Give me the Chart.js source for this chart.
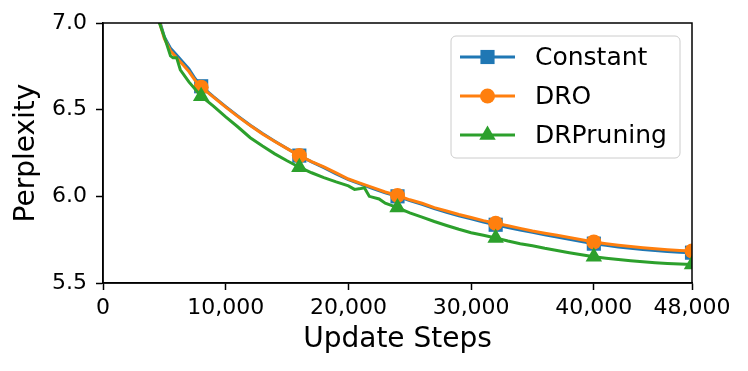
<!DOCTYPE html>
<html>
<head>
<meta charset="utf-8">
<script src="https://cdn.jsdelivr.net/npm/chart.js@4/dist/chart.umd.min.js"></script>
<style>
  html, body { margin: 0; padding: 0; background: #ffffff; }
  #wrap { width: 748px; height: 371px; position: relative; }
</style>
</head>
<body>
<div id="wrap"><canvas id="c" width="748" height="371"></canvas></div>
<script>
// ---- data ----
const seriesNames = ['Constant', 'DRO', 'DRPruning'];
const xTickValues = [0, 10000, 20000, 30000, 40000, 48000];
const yTickValues = [5.5, 6.0, 6.5, 7.0];
const markerSteps = [8000, 16000, 24000, 32000, 40000, 48000];

const stepsMain = [4000, 4500, 5000, 5500, 6000, 6500, 7000, 7500, 8000, 9000, 10000,
  11000, 12000, 13000, 14000, 15000, 16000, 17000, 18000, 19000, 20000,
  21000, 22000, 23000, 24000, 25000, 26000, 27000, 28000, 29000, 30000,
  31000, 32000, 33000, 34000, 35000, 36000, 37000, 38000, 39000, 40000,
  41000, 42000, 43000, 44000, 45000, 46000, 47000, 48000];

const constantPpl = [7.16, 7.04, 6.92, 6.855, 6.815, 6.775, 6.735, 6.68, 6.635, 6.575, 6.518,
  6.463, 6.41, 6.362, 6.318, 6.276, 6.235, 6.199, 6.166, 6.13, 6.096,
  6.07, 6.045, 6.02, 6.0, 5.975, 5.954, 5.93, 5.908, 5.888, 5.87,
  5.852, 5.836, 5.82, 5.806, 5.792, 5.778, 5.765, 5.753, 5.74, 5.727,
  5.717, 5.708, 5.70, 5.693, 5.687, 5.682, 5.678, 5.675];

const droPpl = [7.15, 7.03, 6.91, 6.84, 6.80, 6.76, 6.72, 6.67, 6.63, 6.572, 6.515,
  6.46, 6.408, 6.36, 6.316, 6.275, 6.235, 6.20, 6.17, 6.135, 6.10,
  6.075, 6.05, 6.025, 6.005, 5.98, 5.96, 5.935, 5.915, 5.895, 5.878,
  5.86, 5.845, 5.83, 5.815, 5.80, 5.787, 5.775, 5.763, 5.75, 5.737,
  5.727, 5.718, 5.71, 5.703, 5.697, 5.692, 5.688, 5.685];

const stepsPruning = [4000, 4500, 5000, 5500, 5700, 6000, 6300, 7000, 8000, 9000, 10000,
  11000, 12000, 13000, 14000, 15000, 16000, 17000, 18000, 19000, 20000,
  20500, 21000, 21300, 21700, 22500, 23000, 24000, 25000, 26000, 27000,
  28000, 29000, 30000, 31000, 32000, 33000, 34000, 35000, 36000, 37000,
  38000, 39000, 40000, 41000, 42000, 43000, 44000, 45000, 46000, 47000, 48000];

const pruningPpl = [7.15, 7.02, 6.92, 6.81, 6.80, 6.80, 6.73, 6.66, 6.578, 6.52, 6.458,
  6.40, 6.338, 6.29, 6.245, 6.205, 6.168, 6.136, 6.108, 6.083, 6.06,
  6.04, 6.045, 6.05, 6.00, 5.985, 5.96, 5.935, 5.905, 5.88, 5.855,
  5.832, 5.81, 5.79, 5.775, 5.76, 5.742, 5.727, 5.715, 5.70, 5.687,
  5.675, 5.663, 5.652, 5.643, 5.635, 5.628, 5.622, 5.617, 5.613, 5.61, 5.607];

// ---- styling ----
const FONT = "'DejaVu Sans', sans-serif";
const colors = ['#1f77b4', '#ff7f0e', '#2ca02c'];
const pointStyles = ['rect', 'circle', 'triangle'];
const pointRadii = [10, 7.5, 9.5];

function toXY(xs, ys) { return xs.map((x, i) => ({ x: x, y: ys[i] })); }

const seriesData = [toXY(stepsMain, constantPpl), toXY(stepsMain, droPpl), toXY(stepsPruning, pruningPpl)];

const datasets = seriesNames.map((name, i) => ({
  label: name,
  data: seriesData[i],
  borderColor: colors[i],
  backgroundColor: colors[i],
  borderWidth: 3,
  tension: 0,
  pointStyle: pointStyles[i],
  pointBorderWidth: 0,
  pointBorderColor: colors[i],
  pointRadius: ctx => (ctx.raw && markerSteps.includes(ctx.raw.x)) ? pointRadii[i] : 0,
  pointHoverRadius: 0,
  order: 2 - i
}));

const boxAndLegend = {
  id: 'boxAndLegend',
  afterDatasetsDraw(chart) {
    const { ctx, chartArea: a } = chart;
    ctx.save();
    // axes frame (matplotlib spines)
    ctx.strokeStyle = '#000';
    ctx.lineWidth = 1.5;
    ctx.strokeRect(a.left, a.top, a.right - a.left, a.bottom - a.top);

    // legend
    const bx = a.right - 241, by = a.top + 13, bw = 229, bh = 122, r = 5;
    ctx.beginPath();
    ctx.moveTo(bx + r, by);
    ctx.arcTo(bx + bw, by, bx + bw, by + bh, r);
    ctx.arcTo(bx + bw, by + bh, bx, by + bh, r);
    ctx.arcTo(bx, by + bh, bx, by, r);
    ctx.arcTo(bx, by, bx + bw, by, r);
    ctx.closePath();
    ctx.fillStyle = 'rgba(255,255,255,0.8)';
    ctx.fill();
    ctx.strokeStyle = '#cccccc';
    ctx.lineWidth = 1;
    ctx.stroke();

    chart.data.datasets.forEach((ds, i) => {
      const yy = by + 21 + i * 39;
      const x0 = bx + 9, x1 = bx + 64, xm = (x0 + x1) / 2;
      ctx.beginPath();
      ctx.moveTo(x0, yy);
      ctx.lineTo(x1, yy);
      ctx.strokeStyle = ds.borderColor;
      ctx.lineWidth = 3;
      ctx.stroke();
      ctx.fillStyle = ds.backgroundColor;
      Chart.helpers.drawPoint(ctx, { pointStyle: ds.pointStyle, radius: pointRadii[i], borderWidth: 0, rotation: 0 }, xm, yy);
      ctx.fillStyle = '#000';
      ctx.font = "25px " + FONT;
      ctx.textBaseline = 'middle';
      ctx.textAlign = 'left';
      ctx.fillText(ds.label, bx + 84, yy + 1);
    });
    ctx.restore();
  }
};

Chart.defaults.color = '#000';
Chart.defaults.font.family = FONT;

new Chart(document.getElementById('c'), {
  type: 'line',
  data: { datasets },
  plugins: [boxAndLegend],
  options: {
    responsive: false,
    animation: false,
    events: [],
    layout: { padding: { top: 23, right: 56, left: 0, bottom: 0 } },
    plugins: { legend: { display: false }, tooltip: { enabled: false } },
    scales: {
      x: {
        type: 'linear',
        min: 0, max: 48000,
        afterBuildTicks: s => { s.ticks = xTickValues.map(v => ({ value: v })); },
        afterFit: s => { s.height = 88; },
        grid: { drawOnChartArea: false, tickLength: 7, tickWidth: 1.5, tickColor: '#000' },
        border: { display: true, color: '#000', width: 1.5 },
        ticks: { font: { size: 22 }, padding: 5, maxRotation: 0, autoSkip: false,
          callback: v => Number(v).toLocaleString('en-US') },
        title: { display: true, text: 'Update Steps', font: { size: 28 }, padding: { top: 0, bottom: 14 } }
      },
      y: {
        type: 'linear',
        min: 5.5, max: 7.0,
        afterBuildTicks: s => { s.ticks = yTickValues.map(v => ({ value: v })); },
        afterFit: s => { s.width = 103; },
        grid: { drawOnChartArea: false, tickLength: 7, tickWidth: 1.5, tickColor: '#000' },
        border: { display: true, color: '#000', width: 1.5 },
        ticks: { font: { size: 22 }, padding: 9, autoSkip: false,
          callback: v => Number(v).toFixed(1) },
        title: { display: true, text: 'Perplexity', font: { size: 28 }, padding: { top: 10, bottom: 0 } }
      }
    }
  }
});
</script>
</body>
</html>
